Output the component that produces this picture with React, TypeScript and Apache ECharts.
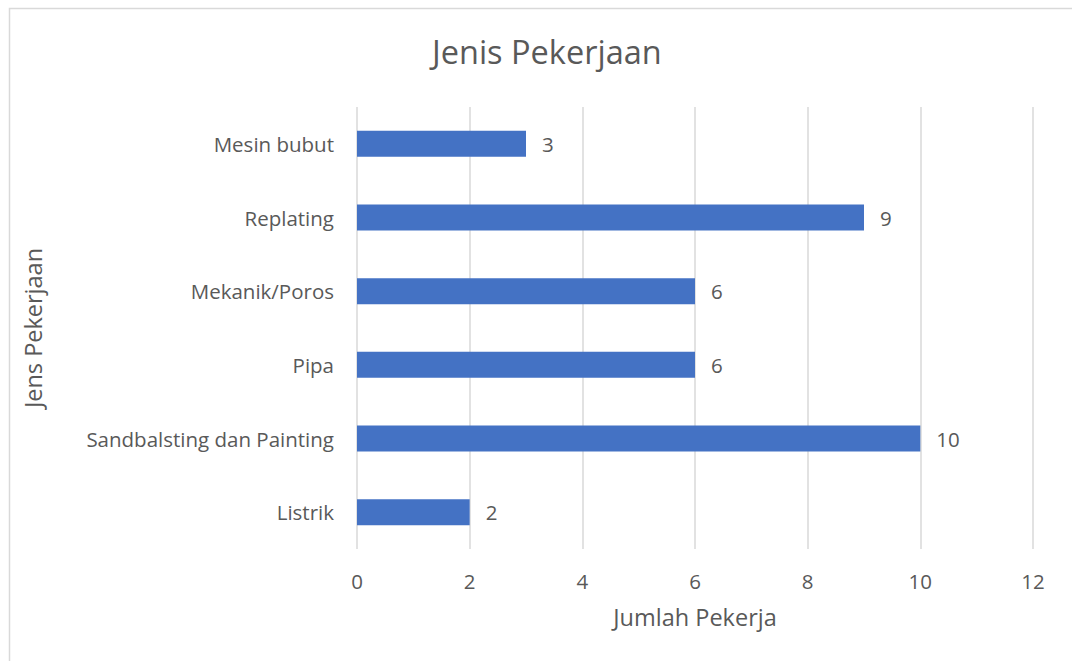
import React, { useEffect, useRef } from "react";
import * as echarts from "echarts";

const categories = ["Mesin bubut", "Replating", "Mekanik/Poros", "Pipa", "Sandbalsting dan Painting", "Listrik"];
const values = [3, 9, 6, 6, 10, 2];
const titleText = "Jenis Pekerjaan";
const xAxisName = "Jumlah Pekerja";
const yAxisName = "Jens Pekerjaan";

const FONT = "'Open Sans', 'Noto Sans', sans-serif";
const TXT = "#595959";

export default function App() {
  const ref = useRef<HTMLDivElement>(null);
  useEffect(() => {
    document.body.style.margin = "0";
    const chart = echarts.init(ref.current!, undefined, { renderer: "svg" });
    chart.setOption({
      animation: false,
      backgroundColor: "#ffffff",
      textStyle: { fontFamily: FONT },
      title: {
        text: titleText,
        left: 427,
        top: 30,
        textStyle: { fontFamily: FONT, fontSize: 32.5, fontWeight: "normal", color: TXT },
      },
      graphic: [
        {
          type: "rect",
          shape: { x: 9.5, y: 8.5, width: 1100, height: 700 },
          style: { fill: "none", stroke: "#d9d9d9", lineWidth: 1.5 },
          silent: true,
        },
      ],
      grid: { left: 357, right: 39, top: 107, bottom: 112, containLabel: false },
      xAxis: {
        type: "value",
        min: 0,
        max: 12,
        interval: 2,
        name: xAxisName,
        nameLocation: "middle",
        nameGap: 56,
        nameTextStyle: { fontFamily: FONT, fontSize: 23.5, color: TXT },
        axisLine: { show: false },
        axisTick: { show: false },
        axisLabel: { fontFamily: FONT, fontSize: 20.5, color: TXT, margin: 21 },
        splitLine: { show: true, lineStyle: { color: "#d9d9d9", width: 1.5 } },
      },
      yAxis: {
        type: "category",
        data: categories,
        inverse: true,
        name: yAxisName,
        nameLocation: "middle",
        nameGap: 312,
        nameRotate: 90,
        nameTextStyle: { fontFamily: FONT, fontSize: 23.5, color: TXT },
        axisLine: { show: false },
        axisTick: { show: false },
        axisLabel: { fontFamily: FONT, fontSize: 20.5, color: TXT, margin: 23 },
        splitLine: { show: false },
      },
      series: [
        {
          type: "bar",
          data: values,
          barWidth: 26,
          itemStyle: { color: "#4472C4" },
          label: {
            show: true,
            position: "right",
            distance: 16,
            fontFamily: FONT,
            fontSize: 20.5,
            color: TXT,
          },
        },
      ],
    });
    return () => chart.dispose();
  }, []);
  return <div ref={ref} style={{ position: "fixed", left: 0, top: 0, width: 1072, height: 661 }} />;
}
